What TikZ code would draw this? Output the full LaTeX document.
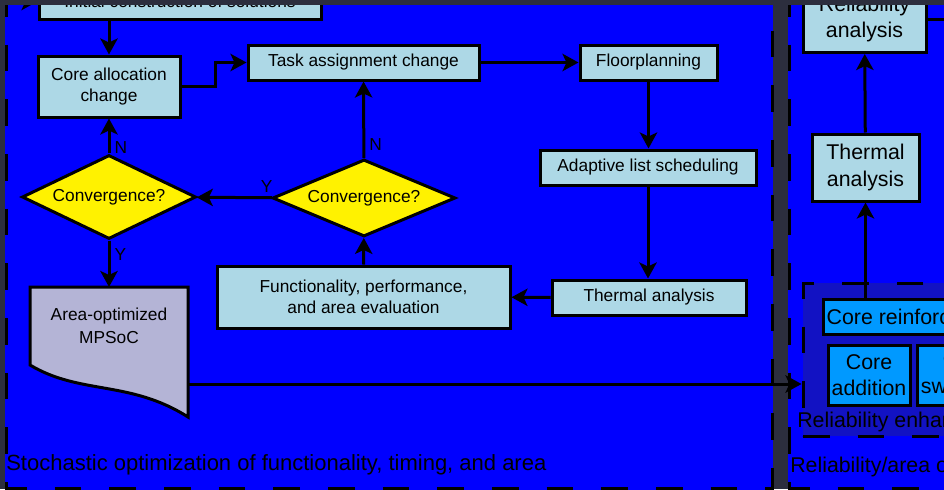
\documentclass[tikz,border=0pt]{standalone}
\usepackage{fontspec}
\setmainfont{Liberation Sans}
\usetikzlibrary{shapes.geometric,arrows.meta}

\definecolor{panelblue}{RGB}{0,0,255}
\definecolor{bgdark}{RGB}{44,46,62}
\definecolor{boxblue}{RGB}{173,216,230}
\definecolor{enhblue}{RGB}{18,18,195}
\definecolor{coreblue}{RGB}{0,153,255}
\definecolor{docgray}{RGB}{180,180,214}

\tikzset{
  stepbox/.style={draw, line width=2.25pt, fill=boxblue, align=center, inner sep=0pt, font=\fontsize{13}{15.75}\selectfont},
  bigbox/.style={stepbox, font=\fontsize{16}{20}\selectfont},
  corebox/.style={bigbox, fill=coreblue},
  decide/.style={draw, diamond, line width=2.25pt, fill=yellow, inner sep=0pt, shape aspect=2.4, font=\fontsize{13}{15.75}\selectfont},
  arr/.style={line width=2.25pt, -{Stealth[length=12pt,width=13pt,inset=3pt]}},
  yn/.style={font=\fontsize{13}{15.75}\selectfont, inner sep=3pt},
  border/.style={line width=2.25pt, dash pattern=on 20pt off 21pt},
  paneltext/.style={anchor=base west, inner sep=0pt},
}

\begin{document}
\begin{tikzpicture}[x=0.75pt, y=-0.75pt]
\clip (0,0) rectangle (944,489);
\fill[bgdark] (0,0) rectangle (944,489);

% the two panels
\fill[panelblue] (5,5) rectangle (773,500);
\fill[panelblue] (788,5) rectangle (1100,500);
\draw[border] (6,-10) rectangle (772,488);
\draw[border] (789,-10) rectangle (1100,488);

% left panel
\node[stepbox, minimum width=211.5pt, minimum height=27pt] (init) at (180,1.5) {Initial construction of solutions};
\node[stepbox, minimum width=106.5pt, minimum height=45.75pt] (core) at (109,86.5) {Core allocation\\change};
\node[stepbox, minimum width=173.25pt, minimum height=26.25pt] (task) at (363.5,62.5) {Task assignment change};
\node[stepbox, minimum width=102.75pt, minimum height=26.25pt] (floor) at (648.5,62.5) {Floorplanning};
\node[stepbox, minimum width=162pt, minimum height=26.25pt] (adapt) at (648,167.5) {Adaptive list scheduling};
\node[stepbox, minimum width=145.5pt, minimum height=26.25pt] (therm1) at (649,297.5) {Thermal analysis};
\node[stepbox, minimum width=219.75pt, minimum height=46.5pt] (func) at (363.5,297) {Functionality, performance,\\and area evaluation};
\node[decide, minimum width=137.25pt, minimum height=57.75pt] (conv2) at (364,198) {Convergence?};
\node[decide, minimum width=130.5pt, minimum height=63pt] (conv1) at (109,197) {Convergence?};

% output document
\draw[line width=2.25pt, fill=docgray] (30,287) -- (188,287) -- (188,417)
  .. controls (130,380) and (80,395) .. (30,365) -- cycle;
\node[align=center, font=\fontsize{13}{17}\selectfont] (mpsoc) at (109,326) {Area-optimized\\MPSoC};
\coordinate (docN) at (109,287);
\coordinate (docE) at (188,384);

\draw[arr] (-20,1.5) -- (init.west);
\draw[arr] (init.south -| core.north) -- (core.north);
\draw[arr] (core.east) -- ++(34,0) |- (task.west);
\draw[arr] (task) -- (floor);
\draw[arr] (floor.south) -- (floor.south |- adapt.north);
\draw[arr] (adapt.south) -- (adapt.south |- therm1.north);
\draw[arr] (therm1) -- (func);
\draw[arr] (func) -- (conv2);
\draw[arr] (conv2) -- node[yn, pos=0.18, right] {N} (task);
\draw[arr] (conv2) -- node[yn, pos=0.07, above] {Y} (conv1);
\draw[arr] (conv1) -- node[yn, pos=0.16, right] {N} (core);
\draw[arr] (conv1) -- node[yn, pos=0.31, right] {Y} (docN);

\node[paneltext, font=\fontsize{16.5}{20}\selectfont] (stochlbl) at (6,470) {Stochastic optimization of functionality, timing, and area};

% right panel
\node[draw, border, fill=enhblue, minimum width=192.75pt, minimum height=114.75pt] (enh) at (931.5,359.5) {};
\node[bigbox, minimum width=92.25pt, minimum height=50.25pt] (relan) at (864.5,19) {Reliability\\analysis};
\node[bigbox, minimum width=80.25pt, minimum height=50.25pt] (therm2) at (865.5,167.5) {Thermal\\analysis};
\node[corebox, minimum width=142.5pt, minimum height=26.25pt] (reinf) at (918,316.5) {Core reinforcement};
\node[corebox, minimum width=61.5pt, minimum height=45pt] (coreadd) at (869,375) {Core\\addition};
\node[corebox, minimum width=73.5pt, minimum height=45pt] (coreswap) at (966,375) {Core\\swapping};
\node[paneltext, font=\fontsize{16}{20}\selectfont] (enhlbl) at (797,427) {Reliability enhancement};
\node[paneltext, font=\fontsize{16}{20}\selectfont] (rellbl) at (790,472) {Reliability/area optimization};

\draw[arr] (docE) -- (docE -| enh.west);
\draw[arr] (therm2) -- (relan);
\draw[arr] (therm2.south |- reinf.north) -- (therm2.south);
\draw[line width=2.25pt] (relan.east) -- ++(40,0);

% window edges
\fill[bgdark] (0,0) rectangle (944,5);
\fill[bgdark] (0,0) rectangle (5,489);
\end{tikzpicture}
\end{document}
